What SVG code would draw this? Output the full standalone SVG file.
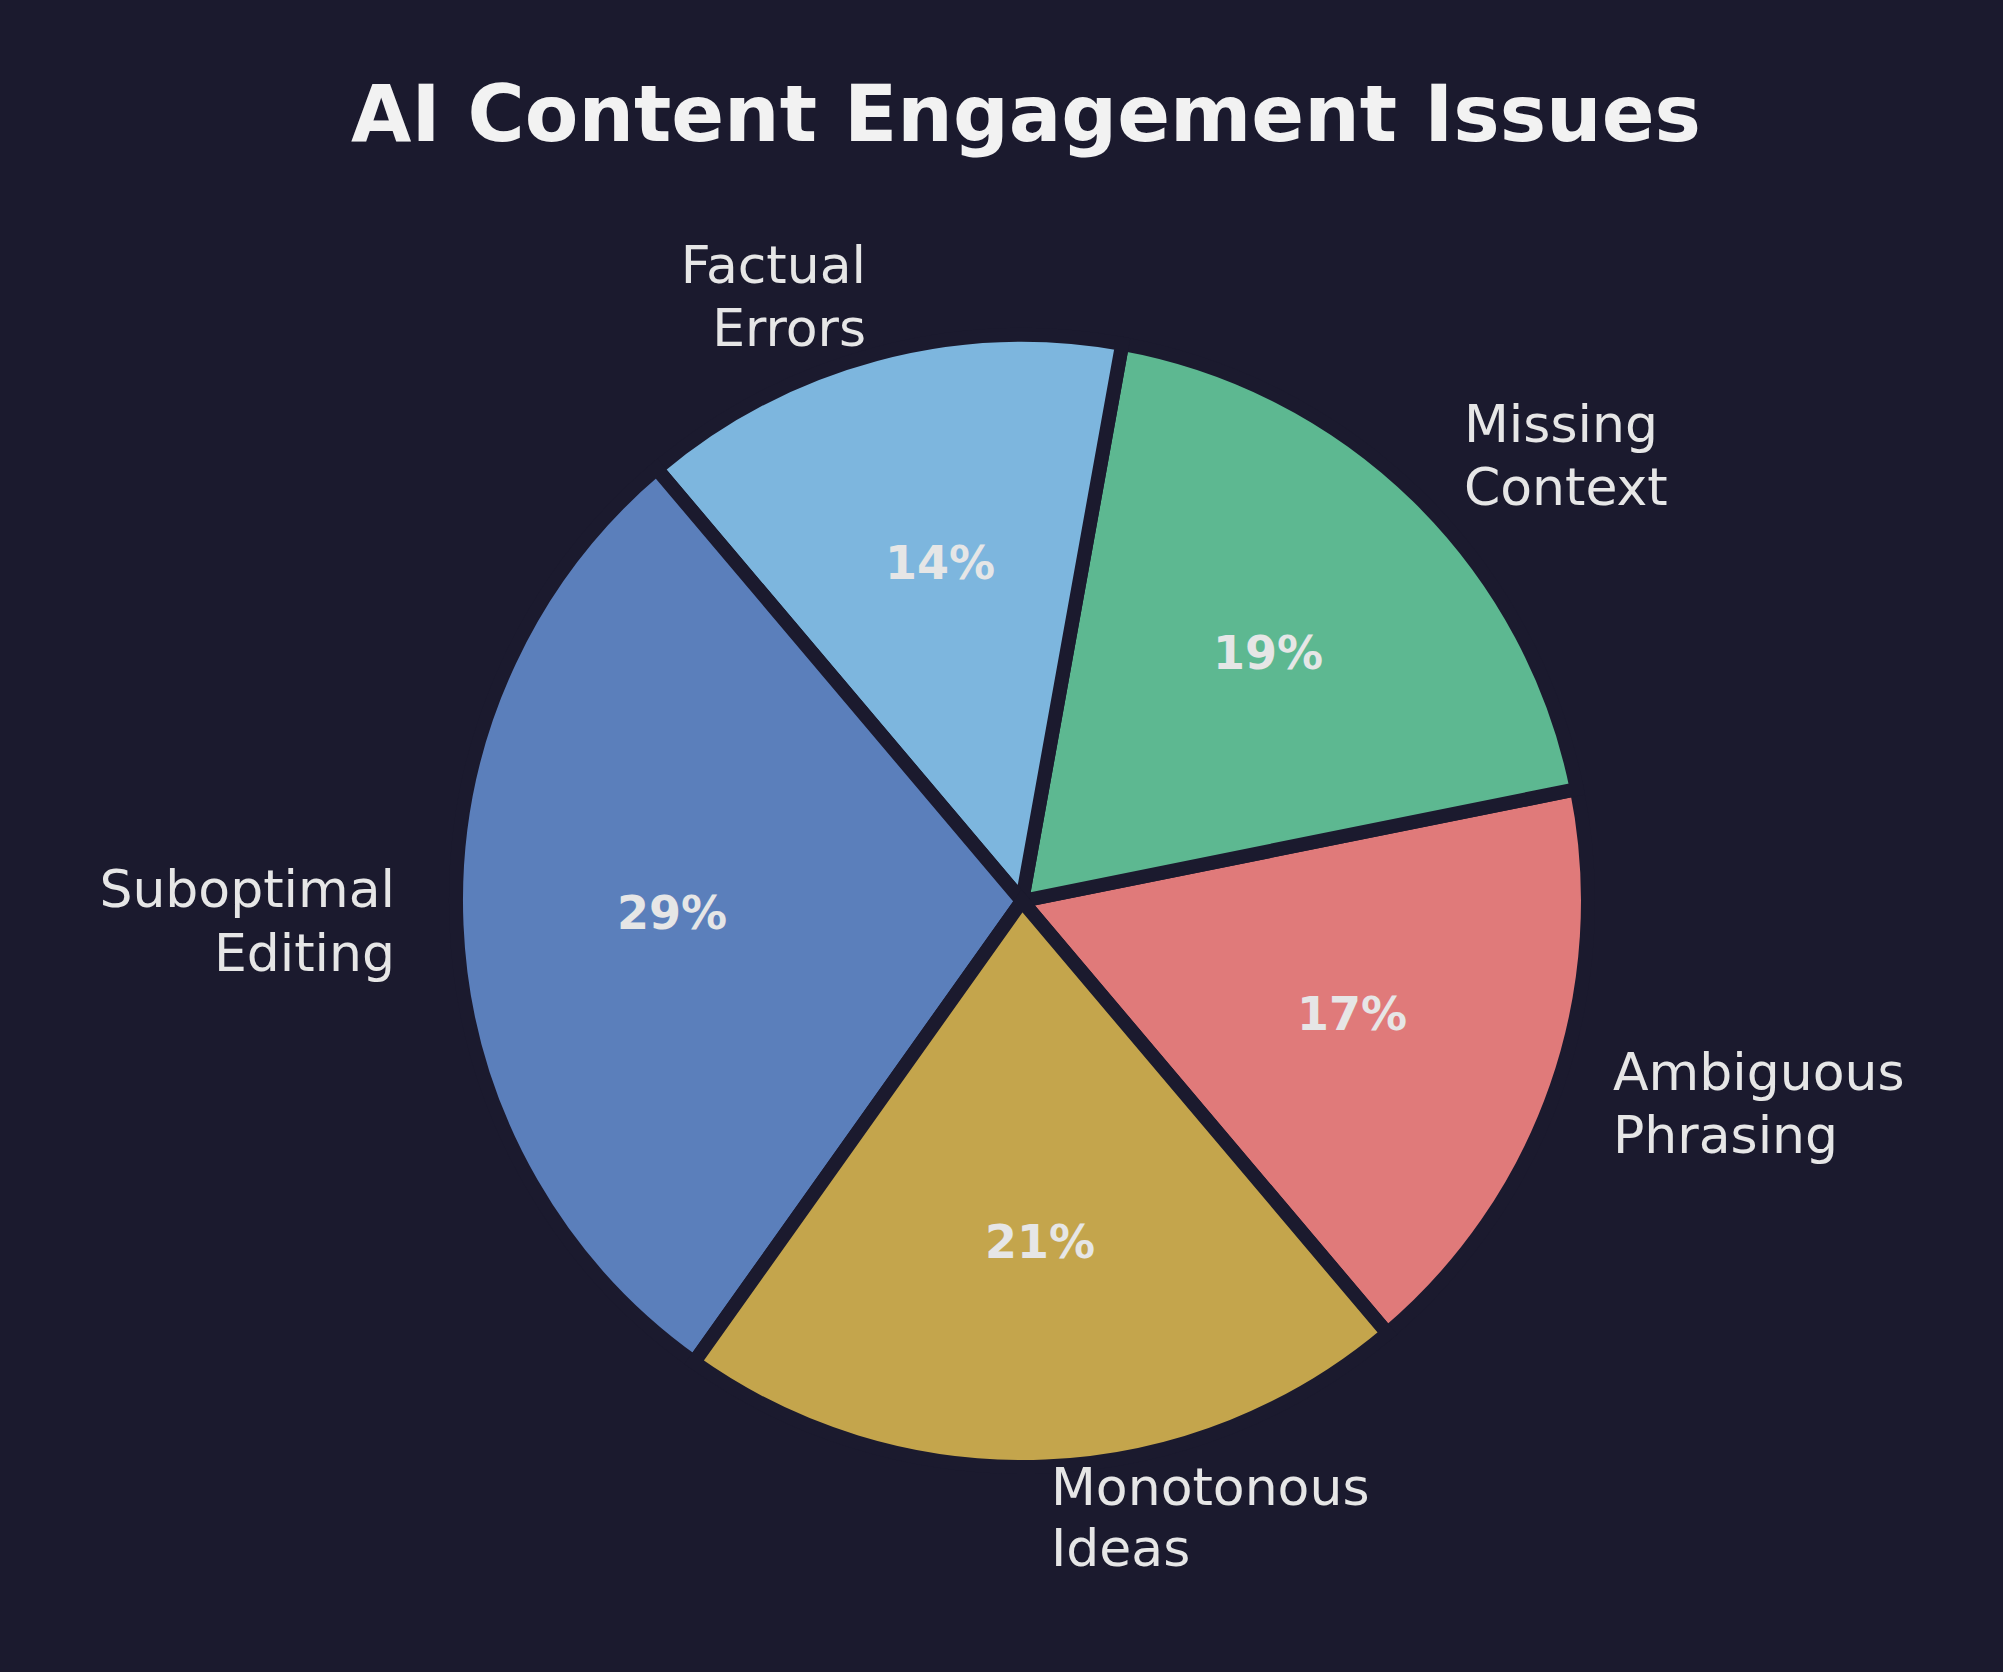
<svg xmlns="http://www.w3.org/2000/svg" width="2003" height="1672" viewBox="0 0 2003 1672">
<style>
.w{stroke:#1b1a2e;stroke-width:14;stroke-linejoin:miter}
.lbl{font-family:"DejaVu Sans",sans-serif;font-size:52px;fill:#e6e6e6}
.pct{font-family:"DejaVu Sans",sans-serif;font-size:46px;font-weight:bold;fill:#e6e6e6;text-anchor:middle}
</style>
<rect width="2003" height="1672" fill="#1b1a2e"/>
<text x="1026" y="141" text-anchor="middle" font-family="DejaVu Sans,sans-serif" font-weight="bold" font-size="78" fill="#f2f2f2">AI Content Engagement Issues</text>
<g id="connectors"/>
<g id="ambiguous"><path class="w" fill="#e07a7a" d="M1022,901 L1387.4,1333.3 A566,566 0 0 0 1576.8,789.1 Z"/>
<text class="pct" x="1352" y="1030">17%</text>
<text class="lbl" x="1613" y="1090">Ambiguous</text><text class="lbl" x="1613" y="1153">Phrasing</text></g>
<g id="missing"><path class="w" fill="#5db891" d="M1022,901 L1576.8,789.1 A566,566 0 0 0 1122.2,343.9 Z"/>
<text class="pct" x="1268" y="669">19%</text>
<text class="lbl" x="1464" y="442">Missing</text><text class="lbl" x="1464" y="505">Context</text></g>
<g id="factual"><path class="w" fill="#7db6de" d="M1022,901 L1122.2,343.9 A566,566 0 0 0 656.6,468.7 Z"/>
<text class="pct" x="940" y="579">14%</text>
<text class="lbl" x="866" y="283" text-anchor="end">Factual</text><text class="lbl" x="866" y="346" text-anchor="end">Errors</text></g>
<g id="suboptimal"><path class="w" fill="#5b7fbb" d="M1022,901 L656.6,468.7 A566,566 0 0 0 694.1,1362.3 Z"/>
<text class="pct" x="672" y="929">29%</text>
<text class="lbl" x="395" y="907" text-anchor="end">Suboptimal</text><text class="lbl" x="395" y="971" text-anchor="end">Editing</text></g>
<g id="monotonous"><path class="w" fill="#c4a54c" d="M1022,901 L694.1,1362.3 A566,566 0 0 0 1387.4,1333.3 Z"/>
<text class="pct" x="1040" y="1258">21%</text>
<text class="lbl" x="1051" y="1505">Monotonous</text><text class="lbl" x="1051" y="1566">Ideas</text></g>
</svg>
